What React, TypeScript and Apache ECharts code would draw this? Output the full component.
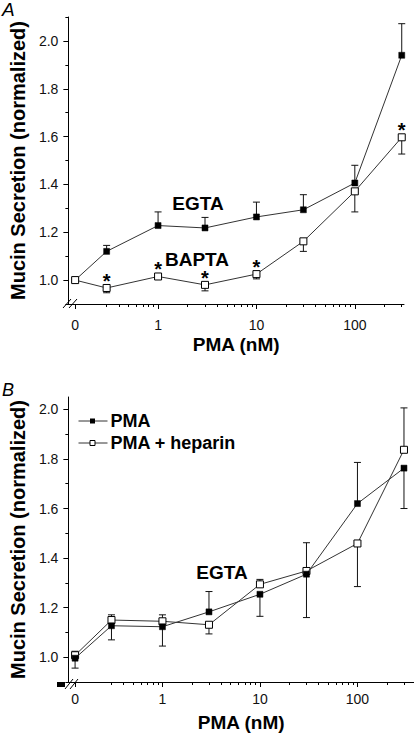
import React, { useEffect, useRef } from "react";
import * as echarts from "echarts";

// ---- data ----
const conc = [0, 0.3, 1, 3, 10, 30, 100, 300];

// Panel A
const egtaA = [1.0, 1.12, 1.228, 1.218, 1.264, 1.294, 1.406, 1.94];
const egtaAPlus = [0, 0.025, 0.057, 0.044, 0.062, 0.063, 0.074, 0.132];
const egtaAMinus = [0, 0, 0, 0, 0, 0, 0, 0];
const baptaA = [1.0, 0.967, 1.015, 0.98, 1.025, 1.162, 1.371, 1.597];
const baptaAPlus = [0, 0, 0.006, 0, 0.006, 0, 0, 0];
const baptaAMinus = [0, 0.02, 0.01, 0.025, 0.02, 0.042, 0.086, 0.07];
const baptaSig = [false, true, true, true, true, false, false, true];

// Panel B
const pmaB = [0.996, 1.127, 1.123, 1.183, 1.254, 1.335, 1.62, 1.763];
const pmaBPlus = [0.028, 0, 0, 0.082, 0, 0.127, 0.166, 0];
const pmaBMinus = [0.04, 0.057, 0.078, 0, 0.089, 0, 0, 0.163];
const hepB = [1.008, 1.15, 1.145, 1.131, 1.294, 1.348, 1.459, 1.837];
const hepBPlus = [0, 0.021, 0.026, 0, 0.02, 0, 0, 0.169];
const hepBMinus = [0, 0, 0, 0.037, 0, 0.188, 0.174, 0];
const legendNames = ["PMA", "PMA + heparin"];

// ticks
const xMajorTicks = [0, 1, 10, 100];
const xMinorTicks = [0.3, 0.4, 0.5, 0.6, 0.7, 0.8, 0.9, 2, 3, 4, 5, 6, 7, 8, 9, 20, 30, 40, 50, 60, 70, 80, 90, 200, 300];
const yMajorA = [1.0, 1.2, 1.4, 1.6, 1.8, 2.0];
const yMinorA = [0.9, 1.1, 1.3, 1.5, 1.7, 1.9, 2.1];
const yMajorB = [1.0, 1.2, 1.4, 1.6, 1.8, 2.0];
const yMinorB = [0.9, 1.1, 1.3, 1.5, 1.7, 1.9];

const ZERO_A = -0.843;
const ZERO_B = -0.896;

const xPos = (c: number, zero: number) => (c === 0 ? zero : Math.log10(c));

const FONT = "'Liberation Sans', Arial, sans-serif";

function errorSeries(name: string, xi: number, yi: number, zero: number, ys: number[], plus: number[], minus: number[]) {
  return {
    type: "custom",
    name,
    xAxisIndex: xi,
    yAxisIndex: yi,
    z: 2,
    silent: true,
    data: conc.map((c, i) => [xPos(c, zero), ys[i], plus[i], minus[i]]),
    renderItem: (params: any, api: any) => {
      const x = api.value(0);
      const y = api.value(1);
      const p = api.value(2);
      const m = api.value(3);
      const hi = api.coord([x, y + p]);
      const lo = api.coord([x, y - m]);
      const children: any[] = [];
      const st = { stroke: "#111", lineWidth: 1 };
      if (p > 0 || m > 0) {
        children.push({ type: "line", shape: { x1: hi[0], y1: hi[1], x2: lo[0], y2: lo[1] }, style: st });
      }
      if (p > 0) children.push({ type: "line", shape: { x1: hi[0] - 3.5, y1: hi[1], x2: hi[0] + 3.5, y2: hi[1] }, style: st });
      if (m > 0) children.push({ type: "line", shape: { x1: lo[0] - 3.5, y1: lo[1], x2: lo[0] + 3.5, y2: lo[1] }, style: st });
      return { type: "group", children };
    },
  };
}

function lineSeries(name: string, xi: number, yi: number, zero: number, ys: number[], open: boolean, sig?: boolean[]) {
  return {
    type: "line",
    name,
    xAxisIndex: xi,
    yAxisIndex: yi,
    z: open ? 4 : 3,
    symbol: "rect",
    symbolSize: open ? 7 : 6,
    showAllSymbol: true,
    lineStyle: { color: "#333", width: 1 },
    itemStyle: open ? { color: "#fff", borderColor: "#000", borderWidth: 1 } : { color: "#000", borderColor: "#000", borderWidth: 0.5 },
    label: { show: false, formatter: "*", position: "top", distance: -7, fontSize: 20, fontWeight: "bold", color: "#000", fontFamily: FONT },
    data: conc.map((c, i) => ({
      value: [xPos(c, zero), ys[i]],
      label: { show: !!(sig && sig[i]) },
    })),
  };
}

function xAxes(grid: number, min: number, max: number, zero: number, labelMargin: number) {
  const major = xMajorTicks.map((c) => xPos(c, zero));
  const minor = xMinorTicks.map((c) => xPos(c, zero));
  return [
    {
      type: "value",
      gridIndex: grid,
      position: "bottom",
      min,
      max,
      splitLine: { show: false },
      axisLine: { show: true, onZero: false, lineStyle: { color: "#000", width: 1 } },
      axisTick: { show: true, length: 5, customValues: major, lineStyle: { color: "#000" } },
      axisLabel: {
        show: true,
        customValues: major,
        margin: labelMargin,
        color: "#111",
        fontSize: 14,
        fontFamily: FONT,
        formatter: (v: number) => (v < -0.5 ? "0" : String(Math.round(Math.pow(10, v)))),
      },
      name: "PMA (nM)",
      nameLocation: "middle",
      nameGap: 31,
      nameTextStyle: { fontSize: 19, fontWeight: "bold", color: "#000", fontFamily: FONT },
    },
    {
      type: "value",
      gridIndex: grid,
      position: "bottom",
      min,
      max,
      splitLine: { show: false },
      axisLine: { show: false, onZero: false },
      axisTick: { show: true, length: 3, customValues: minor, lineStyle: { color: "#000" } },
      axisLabel: { show: false },
    },
  ];
}

function yAxes(grid: number, min: number, max: number, major: number[], minor: number[]) {
  return [
    {
      type: "value",
      gridIndex: grid,
      position: "left",
      min,
      max,
      splitLine: { show: false },
      axisLine: { show: true, onZero: false, lineStyle: { color: "#000", width: 1 } },
      axisTick: { show: true, length: 5, customValues: major, lineStyle: { color: "#000" } },
      axisLabel: {
        show: true,
        customValues: major,
        margin: 10,
        color: "#111",
        fontSize: 14,
        fontFamily: FONT,
        formatter: (v: number) => v.toFixed(1),
      },
      name: "Mucin Secretion (normalized)",
      nameLocation: "middle",
      nameRotate: 90,
      nameGap: 37,
      nameTextStyle: { fontSize: 20, fontWeight: "bold", color: "#000", fontFamily: FONT },
    },
    {
      type: "value",
      gridIndex: grid,
      position: "left",
      min,
      max,
      splitLine: { show: false },
      axisLine: { show: false, onZero: false },
      axisTick: { show: true, length: 3, customValues: minor, lineStyle: { color: "#000" } },
      axisLabel: { show: false },
    },
  ];
}

function legendItem(label: string, y: number, open: boolean) {
  return {
    type: "group",
    left: 76,
    top: y - 9,
    children: [
      { type: "line", shape: { x1: 0, y1: 9.5, x2: 29, y2: 9.5 }, style: { stroke: "#333", lineWidth: 1 } },
      {
        type: "rect",
        shape: { x: 11.5, y: 7, width: 5, height: 5 },
        style: open ? { fill: "#fff", stroke: "#000", lineWidth: 1 } : { fill: "#000" },
      },
      {
        type: "text",
        x: 32,
        y: 9.5,
        style: { text: label, fontSize: 18, fontWeight: "bold", fill: "#000", fontFamily: FONT, verticalAlign: "middle" },
      },
    ],
  };
}

export default function App() {
  const ref = useRef<HTMLDivElement>(null);
  useEffect(() => {
    if (!ref.current) return;
    const chart = echarts.init(ref.current, undefined, { renderer: "svg" });
    const brk = { stroke: "#000", lineWidth: 1 };
    chart.setOption({
      animation: false,
      backgroundColor: "#fff",
      grid: [
        { left: 56, top: 17, width: 348, height: 287 },
        { left: 58, top: 397, width: 356, height: 287 },
      ],
      xAxis: [...xAxes(0, -0.912, 2.5, ZERO_A, 14), ...xAxes(1, -0.965, 2.58, ZERO_B, 10)],
      yAxis: [...yAxes(0, 0.9, 2.1, yMajorA, yMinorA), ...yAxes(1, 0.9, 2.05, yMajorB, yMinorB)],
      series: [
        errorSeries("errEGTA", 0, 0, ZERO_A, egtaA, egtaAPlus, egtaAMinus),
        errorSeries("errBAPTA", 0, 0, ZERO_A, baptaA, baptaAPlus, baptaAMinus),
        lineSeries("EGTA", 0, 0, ZERO_A, egtaA, false),
        lineSeries("BAPTA", 0, 0, ZERO_A, baptaA, true, baptaSig),
        errorSeries("errHep", 2, 2, ZERO_B, hepB, hepBPlus, hepBMinus),
        errorSeries("errPMA", 2, 2, ZERO_B, pmaB, pmaBPlus, pmaBMinus),
        { ...lineSeries(legendNames[1], 2, 2, ZERO_B, hepB, true), z: 3 },
        { ...lineSeries(legendNames[0], 2, 2, ZERO_B, pmaB, false), z: 4 },
      ],
      graphic: [
        { type: "text", left: 2, top: 0, style: { text: "A", fontSize: 19, fontStyle: "italic", fill: "#000", fontFamily: FONT } },
        { type: "text", left: 2, top: 381, style: { text: "B", fontSize: 18, fontStyle: "italic", fill: "#000", fontFamily: FONT } },
        { type: "text", x: 198, y: 203, style: { text: "EGTA", fontSize: 19, fontWeight: "bold", fill: "#000", fontFamily: FONT, align: "center", verticalAlign: "middle" } },
        { type: "text", x: 197, y: 259, style: { text: "BAPTA", fontSize: 19, fontWeight: "bold", fill: "#000", fontFamily: FONT, align: "center", verticalAlign: "middle" } },
        { type: "text", x: 222, y: 572, style: { text: "EGTA", fontSize: 19, fontWeight: "bold", fill: "#000", fontFamily: FONT, align: "center", verticalAlign: "middle" } },
        legendItem(legendNames[0], 421, false),
        legendItem(legendNames[1], 443, true),
        { type: "line", shape: { x1: 63, y1: 308, x2: 71, y2: 299 }, style: brk },
        { type: "line", shape: { x1: 69, y1: 308, x2: 77, y2: 299 }, style: brk },
        { type: "line", shape: { x1: 65, y1: 689, x2: 73, y2: 679 }, style: brk },
        { type: "line", shape: { x1: 70, y1: 689, x2: 78, y2: 679 }, style: brk },
        { type: "rect", shape: { x: 57, y: 682, width: 8, height: 5 }, style: { fill: "#000" } },
      ],
    });
    return () => chart.dispose();
  }, []);
  return <div ref={ref} style={{ position: "fixed", left: 0, top: 0, width: 414, height: 733 }} />;
}
